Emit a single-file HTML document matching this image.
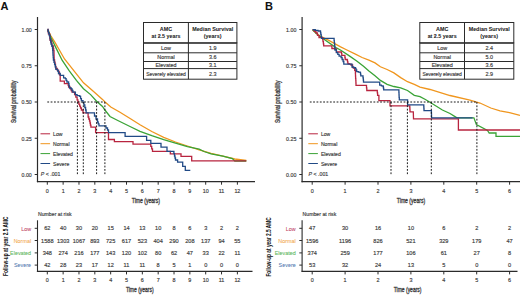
<!DOCTYPE html>
<html><head><meta charset="utf-8"><style>
html,body{margin:0;padding:0;background:#fff;}
body{width:520px;height:295px;overflow:hidden;}
svg{display:block;font-family:"Liberation Sans", sans-serif;}
</style></head><body>
<svg width="520" height="295" viewBox="0 0 520 295">
<rect width="520" height="295" fill="#fff"/>
<text x="0.39999999999999997" y="9.9" font-size="11" fill="#111" font-weight="bold" stroke="#111" stroke-width="0.05">A</text>
<line x1="37.5" y1="17" x2="37.5" y2="182.2" stroke="#2b2b2b" stroke-width="1.2"/>
<line x1="36.9" y1="181.6" x2="255" y2="181.6" stroke="#2b2b2b" stroke-width="1.3"/>
<line x1="34.7" y1="29.5" x2="37.5" y2="29.5" stroke="#2b2b2b" stroke-width="1"/>
<text x="31.8" y="31.8" font-size="5.4" fill="#3a3a3a" text-anchor="end" textLength="10.3" lengthAdjust="spacingAndGlyphs" stroke="#3a3a3a" stroke-width="0.15">1.00</text>
<line x1="34.7" y1="65.75" x2="37.5" y2="65.75" stroke="#2b2b2b" stroke-width="1"/>
<text x="31.8" y="68.05" font-size="5.4" fill="#3a3a3a" text-anchor="end" textLength="10.3" lengthAdjust="spacingAndGlyphs" stroke="#3a3a3a" stroke-width="0.15">0.75</text>
<line x1="34.7" y1="102.0" x2="37.5" y2="102.0" stroke="#2b2b2b" stroke-width="1"/>
<text x="31.8" y="104.3" font-size="5.4" fill="#3a3a3a" text-anchor="end" textLength="10.3" lengthAdjust="spacingAndGlyphs" stroke="#3a3a3a" stroke-width="0.15">0.50</text>
<line x1="34.7" y1="138.25" x2="37.5" y2="138.25" stroke="#2b2b2b" stroke-width="1"/>
<text x="31.8" y="140.55" font-size="5.4" fill="#3a3a3a" text-anchor="end" textLength="10.3" lengthAdjust="spacingAndGlyphs" stroke="#3a3a3a" stroke-width="0.15">0.25</text>
<line x1="34.7" y1="174.5" x2="37.5" y2="174.5" stroke="#2b2b2b" stroke-width="1"/>
<text x="31.8" y="176.8" font-size="5.4" fill="#3a3a3a" text-anchor="end" textLength="10.3" lengthAdjust="spacingAndGlyphs" stroke="#3a3a3a" stroke-width="0.15">0.00</text>
<line x1="47.3" y1="181.6" x2="47.3" y2="184.7" stroke="#2b2b2b" stroke-width="1"/>
<text x="47.3" y="193.0" font-size="5.4" fill="#3a3a3a" text-anchor="middle" stroke="#3a3a3a" stroke-width="0.15">0</text>
<line x1="63.14" y1="181.6" x2="63.14" y2="184.7" stroke="#2b2b2b" stroke-width="1"/>
<text x="63.14" y="193.0" font-size="5.4" fill="#3a3a3a" text-anchor="middle" stroke="#3a3a3a" stroke-width="0.15">1</text>
<line x1="78.97999999999999" y1="181.6" x2="78.97999999999999" y2="184.7" stroke="#2b2b2b" stroke-width="1"/>
<text x="78.97999999999999" y="193.0" font-size="5.4" fill="#3a3a3a" text-anchor="middle" stroke="#3a3a3a" stroke-width="0.15">2</text>
<line x1="94.82" y1="181.6" x2="94.82" y2="184.7" stroke="#2b2b2b" stroke-width="1"/>
<text x="94.82" y="193.0" font-size="5.4" fill="#3a3a3a" text-anchor="middle" stroke="#3a3a3a" stroke-width="0.15">3</text>
<line x1="110.66" y1="181.6" x2="110.66" y2="184.7" stroke="#2b2b2b" stroke-width="1"/>
<text x="110.66" y="193.0" font-size="5.4" fill="#3a3a3a" text-anchor="middle" stroke="#3a3a3a" stroke-width="0.15">4</text>
<line x1="126.5" y1="181.6" x2="126.5" y2="184.7" stroke="#2b2b2b" stroke-width="1"/>
<text x="126.5" y="193.0" font-size="5.4" fill="#3a3a3a" text-anchor="middle" stroke="#3a3a3a" stroke-width="0.15">5</text>
<line x1="142.33999999999997" y1="181.6" x2="142.33999999999997" y2="184.7" stroke="#2b2b2b" stroke-width="1"/>
<text x="142.33999999999997" y="193.0" font-size="5.4" fill="#3a3a3a" text-anchor="middle" stroke="#3a3a3a" stroke-width="0.15">6</text>
<line x1="158.18" y1="181.6" x2="158.18" y2="184.7" stroke="#2b2b2b" stroke-width="1"/>
<text x="158.18" y="193.0" font-size="5.4" fill="#3a3a3a" text-anchor="middle" stroke="#3a3a3a" stroke-width="0.15">7</text>
<line x1="174.01999999999998" y1="181.6" x2="174.01999999999998" y2="184.7" stroke="#2b2b2b" stroke-width="1"/>
<text x="174.01999999999998" y="193.0" font-size="5.4" fill="#3a3a3a" text-anchor="middle" stroke="#3a3a3a" stroke-width="0.15">8</text>
<line x1="189.86" y1="181.6" x2="189.86" y2="184.7" stroke="#2b2b2b" stroke-width="1"/>
<text x="189.86" y="193.0" font-size="5.4" fill="#3a3a3a" text-anchor="middle" stroke="#3a3a3a" stroke-width="0.15">9</text>
<line x1="205.7" y1="181.6" x2="205.7" y2="184.7" stroke="#2b2b2b" stroke-width="1"/>
<text x="205.7" y="193.0" font-size="5.4" fill="#3a3a3a" text-anchor="middle" stroke="#3a3a3a" stroke-width="0.15">10</text>
<line x1="221.54000000000002" y1="181.6" x2="221.54000000000002" y2="184.7" stroke="#2b2b2b" stroke-width="1"/>
<text x="221.54000000000002" y="193.0" font-size="5.4" fill="#3a3a3a" text-anchor="middle" stroke="#3a3a3a" stroke-width="0.15">11</text>
<line x1="237.38" y1="181.6" x2="237.38" y2="184.7" stroke="#2b2b2b" stroke-width="1"/>
<text x="237.38" y="193.0" font-size="5.4" fill="#3a3a3a" text-anchor="middle" stroke="#3a3a3a" stroke-width="0.15">12</text>
<text x="145.9" y="203.4" font-size="7" fill="#3a3a3a" text-anchor="middle" textLength="28.3" lengthAdjust="spacingAndGlyphs" stroke="#3a3a3a" stroke-width="0.32">Time (years)</text>
<text x="0" y="0" font-size="7" fill="#3a3a3a" stroke="#3a3a3a" stroke-width="0.32" text-anchor="middle" textLength="42.5" lengthAdjust="spacingAndGlyphs" transform="translate(15.6,101.8) rotate(-90)">Survival probability</text>
<rect x="143.5" y="22.5" width="93.4" height="56.7" fill="#fff" stroke="#2b2b2b" stroke-width="1"/>
<rect x="143.5" y="42.3" width="93.4" height="1.3000000000000043" fill="#555" stroke="#2b2b2b" stroke-width="0.6"/>
<line x1="143.5" y1="52.8" x2="236.9" y2="52.8" stroke="#2b2b2b" stroke-width="1"/>
<line x1="143.5" y1="61.5" x2="236.9" y2="61.5" stroke="#2b2b2b" stroke-width="1"/>
<line x1="143.5" y1="68.6" x2="236.9" y2="68.6" stroke="#2b2b2b" stroke-width="1"/>
<line x1="188.4" y1="22.5" x2="188.4" y2="79.2" stroke="#2b2b2b" stroke-width="1"/>
<text x="165.95" y="31.0" font-size="5.4" fill="#222" text-anchor="middle" font-weight="bold" stroke="#222" stroke-width="0.05">AMC</text>
<text x="165.95" y="37.6" font-size="5.4" fill="#222" text-anchor="middle" textLength="29.0" lengthAdjust="spacingAndGlyphs" font-weight="bold" stroke="#222" stroke-width="0.05">at 2.5 years</text>
<text x="212.65" y="31.0" font-size="5.4" fill="#222" text-anchor="middle" textLength="41.0" lengthAdjust="spacingAndGlyphs" font-weight="bold" stroke="#222" stroke-width="0.05">Median Survival</text>
<text x="212.65" y="37.6" font-size="5.4" fill="#222" text-anchor="middle" font-weight="bold" stroke="#222" stroke-width="0.05">(years)</text>
<text x="165.95" y="49.800000000000004" font-size="5.4" fill="#3a3a3a" text-anchor="middle" stroke="#3a3a3a" stroke-width="0.15">Low</text>
<text x="212.65" y="49.800000000000004" font-size="5.4" fill="#3a3a3a" text-anchor="middle" stroke="#3a3a3a" stroke-width="0.15">1.9</text>
<text x="165.95" y="58.75" font-size="5.4" fill="#3a3a3a" text-anchor="middle" stroke="#3a3a3a" stroke-width="0.15">Normal</text>
<text x="212.65" y="58.75" font-size="5.4" fill="#3a3a3a" text-anchor="middle" stroke="#3a3a3a" stroke-width="0.15">3.6</text>
<text x="165.95" y="66.64999999999999" font-size="5.4" fill="#3a3a3a" text-anchor="middle" stroke="#3a3a3a" stroke-width="0.15">Elevated</text>
<text x="212.65" y="66.64999999999999" font-size="5.4" fill="#3a3a3a" text-anchor="middle" stroke="#3a3a3a" stroke-width="0.15">3.1</text>
<text x="165.95" y="75.5" font-size="5.4" fill="#3a3a3a" text-anchor="middle" textLength="39.5" lengthAdjust="spacingAndGlyphs" stroke="#3a3a3a" stroke-width="0.15">Severely elevated</text>
<text x="212.65" y="75.5" font-size="5.4" fill="#3a3a3a" text-anchor="middle" stroke="#3a3a3a" stroke-width="0.15">2.3</text>
<polyline points="47.5,29.5 51.0,36.0 55.0,42.4 58.5,48.5 64.5,59.0 74.0,70.9 83.5,82.8 93.0,91.1 102.5,99.4 104.8,101.7 110.8,107.0 120.0,112.3 130.5,118.7 140.0,124.8 151.8,131.5 163.7,137.3 175.5,142.0 187.4,146.0 199.2,149.8 211.1,153.4 222.9,156.2 234.8,159.0 246.3,160.5" fill="none" stroke="#f0961e" stroke-width="1.3" stroke-linejoin="miter"/>
<polyline points="47.5,29.5 51.0,37.5 55.0,45.9 62.1,60.2 69.3,70.9 76.4,80.4 83.5,88.7 90.6,94.6 96.6,101.3 102.5,106.5 104.9,110.0 110.0,116.5 117.8,120.5 130.0,126.5 140.0,131.3 151.8,135.6 163.7,139.6 175.5,143.2 187.4,146.7 199.2,149.1 204.0,151.5 211.1,153.8 222.9,156.2 232.4,158.6 234.8,161.0 246.3,161.0" fill="none" stroke="#3aa336" stroke-width="1.3" stroke-linejoin="miter"/>
<polyline points="47.5,29.5 48.0,29.5 48.0,31.8 48.5,31.8 48.5,34.0 49.5,34.0 49.7,34.0 49.7,36.0 49.8,36.0 49.8,38.0 50.0,38.0 50.0,40.0 51.0,40.0 51.3,40.0 51.3,42.0 51.7,42.0 51.7,44.0 52.0,44.0 52.0,46.0 53.0,46.0 53.3,46.0 53.3,48.3 53.7,48.3 53.7,50.7 54.0,50.7 54.0,53.0 54.2,60.0 54.6,60.0 54.6,62.1 55.0,62.1 55.0,64.2 55.5,64.2 55.5,66.4 55.9,66.4 55.9,68.5 57.2,68.5 57.2,70.2 58.5,70.2 58.5,71.9 59.4,71.9 59.4,74.5 60.2,74.5 60.2,77.0 60.2,81.2 63.6,81.2 64.4,81.2 64.4,83.7 67.8,83.7 68.2,83.7 68.2,85.4 68.6,85.4 68.6,87.1 70.3,87.1 70.3,88.8 71.2,88.8 71.2,90.5 72.0,90.5 72.0,92.2 74.6,92.2 74.6,94.7 75.8,94.7 75.8,97.2 77.1,97.2 77.1,99.8 77.9,99.8 77.9,101.9 78.8,101.9 78.8,104.1 79.7,104.1 79.7,106.1 80.5,106.1 80.5,108.0 81.4,108.0 81.4,110.0 83.0,110.0 83.0,112.9 88.1,112.9 88.1,117.0 88.8,117.0 88.8,119.0 89.5,119.0 89.5,121.0 90.0,121.0 90.0,123.0 90.4,123.0 90.4,125.1 90.9,125.1 90.9,127.1 95.6,127.1 95.6,132.6 108.5,132.6 108.5,139.5 114.4,139.5 114.4,141.7 133.0,141.7 133.0,144.2 149.2,144.2 150.8,144.2 150.8,146.3 151.7,146.3 151.7,148.9 152.5,148.9 152.5,151.4 170.3,151.4 170.3,153.9 181.0,153.9 181.0,156.3 191.7,156.3 191.7,160.8 246.3,160.8" fill="none" stroke="#b8243f" stroke-width="1.3" stroke-linejoin="miter"/>
<polyline points="47.5,29.5 48.0,29.5 48.0,31.2 48.5,31.2 48.5,33.0 49.2,33.0 49.2,35.5 50.0,35.5 50.0,38.0 50.3,38.0 50.3,40.0 50.7,40.0 50.7,42.0 51.0,42.0 51.0,44.0 51.8,44.0 51.8,46.0 52.5,46.0 52.5,48.0 52.7,48.0 52.7,50.4 52.9,50.4 52.9,52.8 53.0,52.8 53.0,55.2 53.2,55.2 53.2,57.6 53.4,57.6 53.4,60.0 54.0,60.0 54.0,62.3 54.6,62.3 54.6,64.7 55.3,64.7 55.3,67.0 55.9,67.0 55.9,69.3 57.6,69.3 57.6,71.0 58.5,71.0 58.5,73.5 60.2,73.5 60.2,75.3 61.9,75.3 63.6,75.3 63.6,77.8 65.3,77.8 65.3,78.6 66.1,78.6 66.1,80.3 66.9,80.3 66.9,82.0 68.6,82.0 68.6,83.7 69.0,83.7 69.0,85.8 69.5,85.8 69.5,88.0 71.2,88.0 71.2,88.8 72.1,88.8 72.1,90.5 72.9,90.5 72.9,92.2 75.4,92.2 75.4,94.7 77.1,94.7 77.1,95.6 79.7,95.6 79.7,96.4 80.6,96.4 80.6,98.6 81.4,98.6 81.4,100.7 83.0,100.7 83.0,102.4 83.9,102.4 83.9,104.9 84.8,104.9 84.8,107.5 85.6,107.5 85.6,110.0 86.1,110.0 86.1,112.9 93.6,112.9 94.5,112.9 94.5,116.0 96.0,116.0 96.0,119.0 97.5,119.0 97.5,122.0 98.2,122.0 98.2,123.9 99.0,123.9 99.0,125.8 105.1,125.8 106.0,125.8 106.0,128.0 107.5,128.0 107.5,130.0 108.5,130.0 108.5,132.7 125.1,132.7 125.1,136.4 146.6,136.4 146.6,140.3 150.8,140.3 150.8,143.4 161.0,143.4 161.0,147.1 167.0,147.1 167.0,151.4 173.4,151.4 173.9,151.4 173.9,153.7 174.5,153.7 174.5,156.0 175.0,156.0 175.0,158.0 175.5,158.0 175.5,160.0 177.6,160.0 177.6,162.2 182.7,162.2 182.7,166.4 185.3,166.4 185.3,170.3 190.3,170.3" fill="none" stroke="#214a86" stroke-width="1.3" stroke-linejoin="miter"/>
<line x1="47.3" y1="102.0" x2="104.9" y2="102.0" stroke="#1a1a1a" stroke-width="1.0" stroke-dasharray="1.8 1.55"/>
<line x1="77.4" y1="102.0" x2="77.4" y2="175.0" stroke="#1a1a1a" stroke-width="1.0" stroke-dasharray="1.8 1.55"/>
<line x1="104.9" y1="102.0" x2="104.9" y2="175.0" stroke="#1a1a1a" stroke-width="1.0" stroke-dasharray="1.8 1.55"/>
<line x1="96.6" y1="102.0" x2="96.6" y2="175.0" stroke="#1a1a1a" stroke-width="1.0" stroke-dasharray="1.8 1.55"/>
<line x1="83.3" y1="102.0" x2="83.3" y2="175.0" stroke="#1a1a1a" stroke-width="1.0" stroke-dasharray="1.8 1.55"/>
<line x1="40.5" y1="133.8" x2="50.1" y2="133.8" stroke="#b8243f" stroke-width="1.0"/>
<text x="53.1" y="136.20000000000002" font-size="5.1" fill="#3a3a3a" stroke="#3a3a3a" stroke-width="0.15">Low</text>
<line x1="40.5" y1="143.70000000000002" x2="50.1" y2="143.70000000000002" stroke="#f0961e" stroke-width="1.0"/>
<text x="53.1" y="146.10000000000002" font-size="5.1" fill="#3a3a3a" stroke="#3a3a3a" stroke-width="0.15">Normal</text>
<line x1="40.5" y1="153.60000000000002" x2="50.1" y2="153.60000000000002" stroke="#3aa336" stroke-width="1.0"/>
<text x="53.1" y="156.00000000000003" font-size="5.1" fill="#3a3a3a" stroke="#3a3a3a" stroke-width="0.15">Elevated</text>
<line x1="40.5" y1="163.5" x2="50.1" y2="163.5" stroke="#214a86" stroke-width="1.0"/>
<text x="53.1" y="165.9" font-size="5.1" fill="#3a3a3a" stroke="#3a3a3a" stroke-width="0.15">Severe</text>
<text x="40.8" y="175.70000000000002" font-size="5.4" fill="#3a3a3a" stroke="#3a3a3a" stroke-width="0.15" textLength="19.6" lengthAdjust="spacingAndGlyphs"><tspan font-style="italic">P</tspan> &lt; .001</text>
<line x1="37.5" y1="220.3" x2="37.5" y2="271.8" stroke="#2b2b2b" stroke-width="1.1"/>
<line x1="36.9" y1="271.3" x2="252.5" y2="271.3" stroke="#2b2b2b" stroke-width="1.3"/>
<text x="37.9" y="216.3" font-size="5.3" fill="#3a3a3a" textLength="33.8" lengthAdjust="spacingAndGlyphs" stroke="#3a3a3a" stroke-width="0.15">Number at risk</text>
<line x1="34.7" y1="228.3" x2="37.5" y2="228.3" stroke="#2b2b2b" stroke-width="1"/>
<text x="31.1" y="230.5" font-size="5.4" fill="#c0405e" text-anchor="end" stroke="#c0405e" stroke-width="0.05">Low</text>
<text x="47.3" y="230.3" font-size="5.6" fill="#3a3a3a" text-anchor="middle" stroke="#3a3a3a" stroke-width="0.15">62</text>
<text x="63.14" y="230.3" font-size="5.6" fill="#3a3a3a" text-anchor="middle" stroke="#3a3a3a" stroke-width="0.15">40</text>
<text x="78.97999999999999" y="230.3" font-size="5.6" fill="#3a3a3a" text-anchor="middle" stroke="#3a3a3a" stroke-width="0.15">30</text>
<text x="94.82" y="230.3" font-size="5.6" fill="#3a3a3a" text-anchor="middle" stroke="#3a3a3a" stroke-width="0.15">20</text>
<text x="110.66" y="230.3" font-size="5.6" fill="#3a3a3a" text-anchor="middle" stroke="#3a3a3a" stroke-width="0.15">15</text>
<text x="126.5" y="230.3" font-size="5.6" fill="#3a3a3a" text-anchor="middle" stroke="#3a3a3a" stroke-width="0.15">14</text>
<text x="142.33999999999997" y="230.3" font-size="5.6" fill="#3a3a3a" text-anchor="middle" stroke="#3a3a3a" stroke-width="0.15">13</text>
<text x="158.18" y="230.3" font-size="5.6" fill="#3a3a3a" text-anchor="middle" stroke="#3a3a3a" stroke-width="0.15">10</text>
<text x="174.01999999999998" y="230.3" font-size="5.6" fill="#3a3a3a" text-anchor="middle" stroke="#3a3a3a" stroke-width="0.15">8</text>
<text x="189.86" y="230.3" font-size="5.6" fill="#3a3a3a" text-anchor="middle" stroke="#3a3a3a" stroke-width="0.15">6</text>
<text x="205.7" y="230.3" font-size="5.6" fill="#3a3a3a" text-anchor="middle" stroke="#3a3a3a" stroke-width="0.15">3</text>
<text x="221.54000000000002" y="230.3" font-size="5.6" fill="#3a3a3a" text-anchor="middle" stroke="#3a3a3a" stroke-width="0.15">2</text>
<text x="237.38" y="230.3" font-size="5.6" fill="#3a3a3a" text-anchor="middle" stroke="#3a3a3a" stroke-width="0.15">2</text>
<line x1="34.7" y1="240.5" x2="37.5" y2="240.5" stroke="#2b2b2b" stroke-width="1"/>
<text x="31.1" y="242.7" font-size="5.4" fill="#f2a64a" text-anchor="end" stroke="#f2a64a" stroke-width="0.05">Normal</text>
<text x="47.3" y="242.5" font-size="5.6" fill="#3a3a3a" text-anchor="middle" stroke="#3a3a3a" stroke-width="0.15">1588</text>
<text x="63.14" y="242.5" font-size="5.6" fill="#3a3a3a" text-anchor="middle" stroke="#3a3a3a" stroke-width="0.15">1303</text>
<text x="78.97999999999999" y="242.5" font-size="5.6" fill="#3a3a3a" text-anchor="middle" stroke="#3a3a3a" stroke-width="0.15">1067</text>
<text x="94.82" y="242.5" font-size="5.6" fill="#3a3a3a" text-anchor="middle" stroke="#3a3a3a" stroke-width="0.15">893</text>
<text x="110.66" y="242.5" font-size="5.6" fill="#3a3a3a" text-anchor="middle" stroke="#3a3a3a" stroke-width="0.15">725</text>
<text x="126.5" y="242.5" font-size="5.6" fill="#3a3a3a" text-anchor="middle" stroke="#3a3a3a" stroke-width="0.15">617</text>
<text x="142.33999999999997" y="242.5" font-size="5.6" fill="#3a3a3a" text-anchor="middle" stroke="#3a3a3a" stroke-width="0.15">523</text>
<text x="158.18" y="242.5" font-size="5.6" fill="#3a3a3a" text-anchor="middle" stroke="#3a3a3a" stroke-width="0.15">404</text>
<text x="174.01999999999998" y="242.5" font-size="5.6" fill="#3a3a3a" text-anchor="middle" stroke="#3a3a3a" stroke-width="0.15">290</text>
<text x="189.86" y="242.5" font-size="5.6" fill="#3a3a3a" text-anchor="middle" stroke="#3a3a3a" stroke-width="0.15">208</text>
<text x="205.7" y="242.5" font-size="5.6" fill="#3a3a3a" text-anchor="middle" stroke="#3a3a3a" stroke-width="0.15">137</text>
<text x="221.54000000000002" y="242.5" font-size="5.6" fill="#3a3a3a" text-anchor="middle" stroke="#3a3a3a" stroke-width="0.15">94</text>
<text x="237.38" y="242.5" font-size="5.6" fill="#3a3a3a" text-anchor="middle" stroke="#3a3a3a" stroke-width="0.15">55</text>
<line x1="34.7" y1="252.9" x2="37.5" y2="252.9" stroke="#2b2b2b" stroke-width="1"/>
<text x="31.1" y="255.1" font-size="5.4" fill="#55b455" text-anchor="end" stroke="#55b455" stroke-width="0.05">Elevated</text>
<text x="47.3" y="254.9" font-size="5.6" fill="#3a3a3a" text-anchor="middle" stroke="#3a3a3a" stroke-width="0.15">348</text>
<text x="63.14" y="254.9" font-size="5.6" fill="#3a3a3a" text-anchor="middle" stroke="#3a3a3a" stroke-width="0.15">274</text>
<text x="78.97999999999999" y="254.9" font-size="5.6" fill="#3a3a3a" text-anchor="middle" stroke="#3a3a3a" stroke-width="0.15">216</text>
<text x="94.82" y="254.9" font-size="5.6" fill="#3a3a3a" text-anchor="middle" stroke="#3a3a3a" stroke-width="0.15">177</text>
<text x="110.66" y="254.9" font-size="5.6" fill="#3a3a3a" text-anchor="middle" stroke="#3a3a3a" stroke-width="0.15">143</text>
<text x="126.5" y="254.9" font-size="5.6" fill="#3a3a3a" text-anchor="middle" stroke="#3a3a3a" stroke-width="0.15">120</text>
<text x="142.33999999999997" y="254.9" font-size="5.6" fill="#3a3a3a" text-anchor="middle" stroke="#3a3a3a" stroke-width="0.15">102</text>
<text x="158.18" y="254.9" font-size="5.6" fill="#3a3a3a" text-anchor="middle" stroke="#3a3a3a" stroke-width="0.15">80</text>
<text x="174.01999999999998" y="254.9" font-size="5.6" fill="#3a3a3a" text-anchor="middle" stroke="#3a3a3a" stroke-width="0.15">62</text>
<text x="189.86" y="254.9" font-size="5.6" fill="#3a3a3a" text-anchor="middle" stroke="#3a3a3a" stroke-width="0.15">47</text>
<text x="205.7" y="254.9" font-size="5.6" fill="#3a3a3a" text-anchor="middle" stroke="#3a3a3a" stroke-width="0.15">33</text>
<text x="221.54000000000002" y="254.9" font-size="5.6" fill="#3a3a3a" text-anchor="middle" stroke="#3a3a3a" stroke-width="0.15">22</text>
<text x="237.38" y="254.9" font-size="5.6" fill="#3a3a3a" text-anchor="middle" stroke="#3a3a3a" stroke-width="0.15">11</text>
<line x1="34.7" y1="265.1" x2="37.5" y2="265.1" stroke="#2b2b2b" stroke-width="1"/>
<text x="31.1" y="267.3" font-size="5.4" fill="#4f78b0" text-anchor="end" stroke="#4f78b0" stroke-width="0.05">Severe</text>
<text x="47.3" y="267.1" font-size="5.6" fill="#3a3a3a" text-anchor="middle" stroke="#3a3a3a" stroke-width="0.15">42</text>
<text x="63.14" y="267.1" font-size="5.6" fill="#3a3a3a" text-anchor="middle" stroke="#3a3a3a" stroke-width="0.15">28</text>
<text x="78.97999999999999" y="267.1" font-size="5.6" fill="#3a3a3a" text-anchor="middle" stroke="#3a3a3a" stroke-width="0.15">23</text>
<text x="94.82" y="267.1" font-size="5.6" fill="#3a3a3a" text-anchor="middle" stroke="#3a3a3a" stroke-width="0.15">17</text>
<text x="110.66" y="267.1" font-size="5.6" fill="#3a3a3a" text-anchor="middle" stroke="#3a3a3a" stroke-width="0.15">12</text>
<text x="126.5" y="267.1" font-size="5.6" fill="#3a3a3a" text-anchor="middle" stroke="#3a3a3a" stroke-width="0.15">11</text>
<text x="142.33999999999997" y="267.1" font-size="5.6" fill="#3a3a3a" text-anchor="middle" stroke="#3a3a3a" stroke-width="0.15">11</text>
<text x="158.18" y="267.1" font-size="5.6" fill="#3a3a3a" text-anchor="middle" stroke="#3a3a3a" stroke-width="0.15">8</text>
<text x="174.01999999999998" y="267.1" font-size="5.6" fill="#3a3a3a" text-anchor="middle" stroke="#3a3a3a" stroke-width="0.15">5</text>
<text x="189.86" y="267.1" font-size="5.6" fill="#3a3a3a" text-anchor="middle" stroke="#3a3a3a" stroke-width="0.15">1</text>
<text x="205.7" y="267.1" font-size="5.6" fill="#3a3a3a" text-anchor="middle" stroke="#3a3a3a" stroke-width="0.15">0</text>
<text x="221.54000000000002" y="267.1" font-size="5.6" fill="#3a3a3a" text-anchor="middle" stroke="#3a3a3a" stroke-width="0.15">0</text>
<text x="237.38" y="267.1" font-size="5.6" fill="#3a3a3a" text-anchor="middle" stroke="#3a3a3a" stroke-width="0.15">0</text>
<line x1="47.3" y1="271.3" x2="47.3" y2="274.40000000000003" stroke="#2b2b2b" stroke-width="1"/>
<text x="47.3" y="282.3" font-size="5.4" fill="#3a3a3a" text-anchor="middle" stroke="#3a3a3a" stroke-width="0.15">0</text>
<line x1="63.14" y1="271.3" x2="63.14" y2="274.40000000000003" stroke="#2b2b2b" stroke-width="1"/>
<text x="63.14" y="282.3" font-size="5.4" fill="#3a3a3a" text-anchor="middle" stroke="#3a3a3a" stroke-width="0.15">1</text>
<line x1="78.97999999999999" y1="271.3" x2="78.97999999999999" y2="274.40000000000003" stroke="#2b2b2b" stroke-width="1"/>
<text x="78.97999999999999" y="282.3" font-size="5.4" fill="#3a3a3a" text-anchor="middle" stroke="#3a3a3a" stroke-width="0.15">2</text>
<line x1="94.82" y1="271.3" x2="94.82" y2="274.40000000000003" stroke="#2b2b2b" stroke-width="1"/>
<text x="94.82" y="282.3" font-size="5.4" fill="#3a3a3a" text-anchor="middle" stroke="#3a3a3a" stroke-width="0.15">3</text>
<line x1="110.66" y1="271.3" x2="110.66" y2="274.40000000000003" stroke="#2b2b2b" stroke-width="1"/>
<text x="110.66" y="282.3" font-size="5.4" fill="#3a3a3a" text-anchor="middle" stroke="#3a3a3a" stroke-width="0.15">4</text>
<line x1="126.5" y1="271.3" x2="126.5" y2="274.40000000000003" stroke="#2b2b2b" stroke-width="1"/>
<text x="126.5" y="282.3" font-size="5.4" fill="#3a3a3a" text-anchor="middle" stroke="#3a3a3a" stroke-width="0.15">5</text>
<line x1="142.33999999999997" y1="271.3" x2="142.33999999999997" y2="274.40000000000003" stroke="#2b2b2b" stroke-width="1"/>
<text x="142.33999999999997" y="282.3" font-size="5.4" fill="#3a3a3a" text-anchor="middle" stroke="#3a3a3a" stroke-width="0.15">6</text>
<line x1="158.18" y1="271.3" x2="158.18" y2="274.40000000000003" stroke="#2b2b2b" stroke-width="1"/>
<text x="158.18" y="282.3" font-size="5.4" fill="#3a3a3a" text-anchor="middle" stroke="#3a3a3a" stroke-width="0.15">7</text>
<line x1="174.01999999999998" y1="271.3" x2="174.01999999999998" y2="274.40000000000003" stroke="#2b2b2b" stroke-width="1"/>
<text x="174.01999999999998" y="282.3" font-size="5.4" fill="#3a3a3a" text-anchor="middle" stroke="#3a3a3a" stroke-width="0.15">8</text>
<line x1="189.86" y1="271.3" x2="189.86" y2="274.40000000000003" stroke="#2b2b2b" stroke-width="1"/>
<text x="189.86" y="282.3" font-size="5.4" fill="#3a3a3a" text-anchor="middle" stroke="#3a3a3a" stroke-width="0.15">9</text>
<line x1="205.7" y1="271.3" x2="205.7" y2="274.40000000000003" stroke="#2b2b2b" stroke-width="1"/>
<text x="205.7" y="282.3" font-size="5.4" fill="#3a3a3a" text-anchor="middle" stroke="#3a3a3a" stroke-width="0.15">10</text>
<line x1="221.54000000000002" y1="271.3" x2="221.54000000000002" y2="274.40000000000003" stroke="#2b2b2b" stroke-width="1"/>
<text x="221.54000000000002" y="282.3" font-size="5.4" fill="#3a3a3a" text-anchor="middle" stroke="#3a3a3a" stroke-width="0.15">11</text>
<line x1="237.38" y1="271.3" x2="237.38" y2="274.40000000000003" stroke="#2b2b2b" stroke-width="1"/>
<text x="237.38" y="282.3" font-size="5.4" fill="#3a3a3a" text-anchor="middle" stroke="#3a3a3a" stroke-width="0.15">12</text>
<text x="139.8" y="292.2" font-size="7" fill="#3a3a3a" text-anchor="middle" textLength="27.8" lengthAdjust="spacingAndGlyphs" stroke="#3a3a3a" stroke-width="0.32">Time (years)</text>
<text x="0" y="0" font-size="7.2" fill="#111" font-weight="bold" text-anchor="middle" textLength="59.3" lengthAdjust="spacingAndGlyphs" transform="translate(7.7,246.3) rotate(-90)">Follow-up at year 2.5 AMC</text>
<text x="265.1" y="9.9" font-size="11" fill="#111" font-weight="bold" stroke="#111" stroke-width="0.05">B</text>
<line x1="302.1" y1="17" x2="302.1" y2="182.2" stroke="#2b2b2b" stroke-width="1.2"/>
<line x1="301.5" y1="181.6" x2="520" y2="181.6" stroke="#2b2b2b" stroke-width="1.3"/>
<line x1="299.3" y1="29.5" x2="302.1" y2="29.5" stroke="#2b2b2b" stroke-width="1"/>
<text x="296.40000000000003" y="31.8" font-size="5.4" fill="#3a3a3a" text-anchor="end" textLength="10.3" lengthAdjust="spacingAndGlyphs" stroke="#3a3a3a" stroke-width="0.15">1.00</text>
<line x1="299.3" y1="65.75" x2="302.1" y2="65.75" stroke="#2b2b2b" stroke-width="1"/>
<text x="296.40000000000003" y="68.05" font-size="5.4" fill="#3a3a3a" text-anchor="end" textLength="10.3" lengthAdjust="spacingAndGlyphs" stroke="#3a3a3a" stroke-width="0.15">0.75</text>
<line x1="299.3" y1="102.0" x2="302.1" y2="102.0" stroke="#2b2b2b" stroke-width="1"/>
<text x="296.40000000000003" y="104.3" font-size="5.4" fill="#3a3a3a" text-anchor="end" textLength="10.3" lengthAdjust="spacingAndGlyphs" stroke="#3a3a3a" stroke-width="0.15">0.50</text>
<line x1="299.3" y1="138.25" x2="302.1" y2="138.25" stroke="#2b2b2b" stroke-width="1"/>
<text x="296.40000000000003" y="140.55" font-size="5.4" fill="#3a3a3a" text-anchor="end" textLength="10.3" lengthAdjust="spacingAndGlyphs" stroke="#3a3a3a" stroke-width="0.15">0.25</text>
<line x1="299.3" y1="174.5" x2="302.1" y2="174.5" stroke="#2b2b2b" stroke-width="1"/>
<text x="296.40000000000003" y="176.8" font-size="5.4" fill="#3a3a3a" text-anchor="end" textLength="10.3" lengthAdjust="spacingAndGlyphs" stroke="#3a3a3a" stroke-width="0.15">0.00</text>
<line x1="312.2" y1="181.6" x2="312.2" y2="184.7" stroke="#2b2b2b" stroke-width="1"/>
<text x="312.2" y="193.0" font-size="5.4" fill="#3a3a3a" text-anchor="middle" stroke="#3a3a3a" stroke-width="0.15">0</text>
<line x1="345.09999999999997" y1="181.6" x2="345.09999999999997" y2="184.7" stroke="#2b2b2b" stroke-width="1"/>
<text x="345.09999999999997" y="193.0" font-size="5.4" fill="#3a3a3a" text-anchor="middle" stroke="#3a3a3a" stroke-width="0.15">1</text>
<line x1="378.0" y1="181.6" x2="378.0" y2="184.7" stroke="#2b2b2b" stroke-width="1"/>
<text x="378.0" y="193.0" font-size="5.4" fill="#3a3a3a" text-anchor="middle" stroke="#3a3a3a" stroke-width="0.15">2</text>
<line x1="410.9" y1="181.6" x2="410.9" y2="184.7" stroke="#2b2b2b" stroke-width="1"/>
<text x="410.9" y="193.0" font-size="5.4" fill="#3a3a3a" text-anchor="middle" stroke="#3a3a3a" stroke-width="0.15">3</text>
<line x1="443.79999999999995" y1="181.6" x2="443.79999999999995" y2="184.7" stroke="#2b2b2b" stroke-width="1"/>
<text x="443.79999999999995" y="193.0" font-size="5.4" fill="#3a3a3a" text-anchor="middle" stroke="#3a3a3a" stroke-width="0.15">4</text>
<line x1="476.7" y1="181.6" x2="476.7" y2="184.7" stroke="#2b2b2b" stroke-width="1"/>
<text x="476.7" y="193.0" font-size="5.4" fill="#3a3a3a" text-anchor="middle" stroke="#3a3a3a" stroke-width="0.15">5</text>
<line x1="509.59999999999997" y1="181.6" x2="509.59999999999997" y2="184.7" stroke="#2b2b2b" stroke-width="1"/>
<text x="509.59999999999997" y="193.0" font-size="5.4" fill="#3a3a3a" text-anchor="middle" stroke="#3a3a3a" stroke-width="0.15">6</text>
<text x="411" y="203.4" font-size="7" fill="#3a3a3a" text-anchor="middle" textLength="28.3" lengthAdjust="spacingAndGlyphs" stroke="#3a3a3a" stroke-width="0.32">Time (years)</text>
<text x="0" y="0" font-size="7" fill="#3a3a3a" stroke="#3a3a3a" stroke-width="0.32" text-anchor="middle" textLength="42.5" lengthAdjust="spacingAndGlyphs" transform="translate(280.2,101.8) rotate(-90)">Survival probability</text>
<rect x="419.8" y="22.5" width="93.99999999999994" height="56.7" fill="#fff" stroke="#2b2b2b" stroke-width="1"/>
<rect x="419.8" y="42.3" width="93.99999999999994" height="1.3000000000000043" fill="#555" stroke="#2b2b2b" stroke-width="0.6"/>
<line x1="419.8" y1="52.8" x2="513.8" y2="52.8" stroke="#2b2b2b" stroke-width="1"/>
<line x1="419.8" y1="61.5" x2="513.8" y2="61.5" stroke="#2b2b2b" stroke-width="1"/>
<line x1="419.8" y1="68.6" x2="513.8" y2="68.6" stroke="#2b2b2b" stroke-width="1"/>
<line x1="464.5" y1="22.5" x2="464.5" y2="79.2" stroke="#2b2b2b" stroke-width="1"/>
<text x="442.15" y="31.0" font-size="5.4" fill="#222" text-anchor="middle" font-weight="bold" stroke="#222" stroke-width="0.05">AMC</text>
<text x="442.15" y="37.6" font-size="5.4" fill="#222" text-anchor="middle" textLength="29.0" lengthAdjust="spacingAndGlyphs" font-weight="bold" stroke="#222" stroke-width="0.05">at 2.5 years</text>
<text x="489.15" y="31.0" font-size="5.4" fill="#222" text-anchor="middle" textLength="41.0" lengthAdjust="spacingAndGlyphs" font-weight="bold" stroke="#222" stroke-width="0.05">Median Survival</text>
<text x="489.15" y="37.6" font-size="5.4" fill="#222" text-anchor="middle" font-weight="bold" stroke="#222" stroke-width="0.05">(years)</text>
<text x="442.15" y="49.800000000000004" font-size="5.4" fill="#3a3a3a" text-anchor="middle" stroke="#3a3a3a" stroke-width="0.15">Low</text>
<text x="489.15" y="49.800000000000004" font-size="5.4" fill="#3a3a3a" text-anchor="middle" stroke="#3a3a3a" stroke-width="0.15">2.4</text>
<text x="442.15" y="58.75" font-size="5.4" fill="#3a3a3a" text-anchor="middle" stroke="#3a3a3a" stroke-width="0.15">Normal</text>
<text x="489.15" y="58.75" font-size="5.4" fill="#3a3a3a" text-anchor="middle" stroke="#3a3a3a" stroke-width="0.15">5.0</text>
<text x="442.15" y="66.64999999999999" font-size="5.4" fill="#3a3a3a" text-anchor="middle" stroke="#3a3a3a" stroke-width="0.15">Elevated</text>
<text x="489.15" y="66.64999999999999" font-size="5.4" fill="#3a3a3a" text-anchor="middle" stroke="#3a3a3a" stroke-width="0.15">3.6</text>
<text x="442.15" y="75.5" font-size="5.4" fill="#3a3a3a" text-anchor="middle" textLength="39.5" lengthAdjust="spacingAndGlyphs" stroke="#3a3a3a" stroke-width="0.15">Severely elevated</text>
<text x="489.15" y="75.5" font-size="5.4" fill="#3a3a3a" text-anchor="middle" stroke="#3a3a3a" stroke-width="0.15">2.9</text>
<polyline points="312.6,29.7 316.0,33.0 319.3,35.7 328.8,40.4 340.6,46.8 345.9,49.5 355.4,54.1 362.1,57.5 368.9,60.2 375.0,62.9 380.4,66.8 387.1,69.5 393.9,72.9 400.7,77.6 407.5,81.7 414.3,84.4 420.0,87.1 430.0,89.5 450.0,95.5 470.0,100.2 480.0,103.0 490.8,108.0 500.0,110.8 509.5,112.7 520.0,115.3" fill="none" stroke="#f0961e" stroke-width="1.3" stroke-linejoin="miter"/>
<polyline points="312.6,29.7 318.0,35.0 324.0,39.3 335.9,47.6 340.4,50.0 348.6,55.4 356.7,60.9 363.5,66.3 368.9,71.0 375.0,75.8 380.4,80.4 387.1,84.4 393.9,86.5 400.7,87.8 407.5,90.5 414.3,95.3 420.0,96.6 425.4,99.5 430.0,102.3 442.4,110.0 450.0,113.5 455.0,116.6 457.0,117.8 473.9,117.8 476.4,124.6 487.5,130.5 489.2,133.0 496.0,133.0 496.0,136.4 520.0,136.4" fill="none" stroke="#3aa336" stroke-width="1.3" stroke-linejoin="miter"/>
<polyline points="312.6,29.7 314.3,29.7 314.3,31.4 316.0,31.4 316.0,33.0 317.5,33.0 317.5,35.3 319.0,35.3 319.0,37.6 322.4,37.6 322.7,37.6 322.7,39.6 323.0,39.6 323.0,41.7 323.4,41.7 323.4,43.8 323.7,43.8 323.7,45.8 329.2,45.8 331.9,45.8 331.9,48.5 334.6,48.5 334.6,49.0 336.4,49.0 336.4,52.0 341.1,52.0 341.5,52.0 341.5,53.7 341.8,53.7 341.8,55.4 344.5,55.4 344.9,55.4 344.9,57.5 345.2,57.5 345.2,59.5 347.2,59.5 347.2,60.2 347.5,60.2 347.5,61.9 347.9,61.9 347.9,63.6 349.2,63.6 349.2,64.2 351.0,64.2 351.0,65.0 352.6,65.0 352.6,67.6 354.0,67.6 354.0,68.3 354.7,68.3 354.7,70.4 355.4,70.4 355.4,73.7 355.5,73.7 355.5,76.0 355.6,76.0 355.6,78.3 355.8,78.3 355.8,80.7 355.9,80.7 355.9,83.0 356.0,83.0 356.0,85.3 366.2,85.3 366.5,85.3 366.5,87.9 366.8,87.9 366.8,90.5 377.0,90.5 377.3,90.5 377.3,92.9 377.6,92.9 377.6,95.3 378.9,95.3 378.9,96.4 378.9,100.7 390.0,100.7 390.0,105.9 409.7,105.9 409.8,105.9 409.8,107.9 409.9,107.9 409.9,109.8 410.0,109.8 410.0,111.8 413.3,111.8 413.5,118.9 458.4,118.9 458.4,130.0 520.0,130.0" fill="none" stroke="#b8243f" stroke-width="1.3" stroke-linejoin="miter"/>
<polyline points="312.6,29.7 315.3,29.7 315.3,30.4 318.0,30.4 318.0,31.0 320.5,31.0 320.5,32.5 320.8,32.5 320.8,34.4 321.2,34.4 321.2,36.4 321.5,36.4 321.5,38.3 333.8,38.3 334.1,38.3 334.1,40.6 334.3,40.6 334.3,42.8 334.6,42.8 334.6,45.1 334.8,45.1 334.8,47.5 335.0,47.5 335.0,50.0 336.4,50.0 336.4,52.7 337.8,52.7 337.8,54.4 339.1,54.4 339.1,56.1 341.1,56.1 341.1,57.5 342.1,57.5 342.1,59.5 343.1,59.5 343.1,61.5 343.8,61.5 343.8,64.2 351.3,64.2 352.0,64.2 352.0,67.0 353.7,67.0 353.7,67.7 355.4,67.7 355.4,68.3 356.0,68.3 356.0,70.0 356.7,70.0 356.7,71.7 358.4,71.7 358.4,72.1 360.1,72.1 360.1,72.4 360.5,72.4 360.5,74.1 360.8,74.1 360.8,75.8 362.8,75.8 363.0,75.8 363.0,77.9 363.3,77.9 363.3,80.1 363.5,80.1 363.5,82.2 379.0,82.2 379.7,82.2 379.7,85.1 381.4,85.1 381.4,85.8 383.1,85.8 383.1,86.5 383.4,86.5 383.4,88.2 383.7,88.2 383.7,89.9 398.7,89.9 398.9,89.9 398.9,92.4 399.0,92.4 399.0,94.8 399.1,94.8 399.1,97.3 399.3,97.3 399.3,99.8 407.6,99.8 407.6,104.8 423.7,104.8 423.8,104.8 423.8,106.8 423.9,106.8 423.9,108.7 424.0,108.7 424.0,110.7 431.4,110.7 431.6,117.8 472.6,117.8" fill="none" stroke="#214a86" stroke-width="1.3" stroke-linejoin="miter"/>
<line x1="309.8" y1="102.0" x2="476.9" y2="102.0" stroke="#1a1a1a" stroke-width="1.0" stroke-dasharray="1.8 1.55"/>
<line x1="391.0" y1="102.0" x2="391.0" y2="175.0" stroke="#1a1a1a" stroke-width="1.0" stroke-dasharray="1.8 1.55"/>
<line x1="476.9" y1="102.0" x2="476.9" y2="175.0" stroke="#1a1a1a" stroke-width="1.0" stroke-dasharray="1.8 1.55"/>
<line x1="407.4" y1="102.0" x2="407.4" y2="175.0" stroke="#1a1a1a" stroke-width="1.0" stroke-dasharray="1.8 1.55"/>
<line x1="431.3" y1="102.0" x2="431.3" y2="175.0" stroke="#1a1a1a" stroke-width="1.0" stroke-dasharray="1.8 1.55"/>
<line x1="308.3" y1="133.8" x2="317.90000000000003" y2="133.8" stroke="#b8243f" stroke-width="1.0"/>
<text x="320.90000000000003" y="136.20000000000002" font-size="5.1" fill="#3a3a3a" stroke="#3a3a3a" stroke-width="0.15">Low</text>
<line x1="308.3" y1="143.70000000000002" x2="317.90000000000003" y2="143.70000000000002" stroke="#f0961e" stroke-width="1.0"/>
<text x="320.90000000000003" y="146.10000000000002" font-size="5.1" fill="#3a3a3a" stroke="#3a3a3a" stroke-width="0.15">Normal</text>
<line x1="308.3" y1="153.60000000000002" x2="317.90000000000003" y2="153.60000000000002" stroke="#3aa336" stroke-width="1.0"/>
<text x="320.90000000000003" y="156.00000000000003" font-size="5.1" fill="#3a3a3a" stroke="#3a3a3a" stroke-width="0.15">Elevated</text>
<line x1="308.3" y1="163.5" x2="317.90000000000003" y2="163.5" stroke="#214a86" stroke-width="1.0"/>
<text x="320.90000000000003" y="165.9" font-size="5.1" fill="#3a3a3a" stroke="#3a3a3a" stroke-width="0.15">Severe</text>
<text x="308.6" y="175.70000000000002" font-size="5.4" fill="#3a3a3a" stroke="#3a3a3a" stroke-width="0.15" textLength="19.6" lengthAdjust="spacingAndGlyphs"><tspan font-style="italic">P</tspan> &lt; .001</text>
<line x1="302.1" y1="220.3" x2="302.1" y2="271.8" stroke="#2b2b2b" stroke-width="1.1"/>
<line x1="301.5" y1="271.3" x2="517.5" y2="271.3" stroke="#2b2b2b" stroke-width="1.3"/>
<text x="302.5" y="216.3" font-size="5.3" fill="#3a3a3a" textLength="33.8" lengthAdjust="spacingAndGlyphs" stroke="#3a3a3a" stroke-width="0.15">Number at risk</text>
<line x1="299.3" y1="228.3" x2="302.1" y2="228.3" stroke="#2b2b2b" stroke-width="1"/>
<text x="295.70000000000005" y="230.5" font-size="5.4" fill="#c0405e" text-anchor="end" stroke="#c0405e" stroke-width="0.05">Low</text>
<text x="312.2" y="230.3" font-size="5.6" fill="#3a3a3a" text-anchor="middle" stroke="#3a3a3a" stroke-width="0.15">47</text>
<text x="345.09999999999997" y="230.3" font-size="5.6" fill="#3a3a3a" text-anchor="middle" stroke="#3a3a3a" stroke-width="0.15">30</text>
<text x="378.0" y="230.3" font-size="5.6" fill="#3a3a3a" text-anchor="middle" stroke="#3a3a3a" stroke-width="0.15">16</text>
<text x="410.9" y="230.3" font-size="5.6" fill="#3a3a3a" text-anchor="middle" stroke="#3a3a3a" stroke-width="0.15">10</text>
<text x="443.79999999999995" y="230.3" font-size="5.6" fill="#3a3a3a" text-anchor="middle" stroke="#3a3a3a" stroke-width="0.15">6</text>
<text x="476.7" y="230.3" font-size="5.6" fill="#3a3a3a" text-anchor="middle" stroke="#3a3a3a" stroke-width="0.15">2</text>
<text x="509.59999999999997" y="230.3" font-size="5.6" fill="#3a3a3a" text-anchor="middle" stroke="#3a3a3a" stroke-width="0.15">2</text>
<line x1="299.3" y1="240.5" x2="302.1" y2="240.5" stroke="#2b2b2b" stroke-width="1"/>
<text x="295.70000000000005" y="242.7" font-size="5.4" fill="#f2a64a" text-anchor="end" stroke="#f2a64a" stroke-width="0.05">Normal</text>
<text x="312.2" y="242.5" font-size="5.6" fill="#3a3a3a" text-anchor="middle" stroke="#3a3a3a" stroke-width="0.15">1596</text>
<text x="345.09999999999997" y="242.5" font-size="5.6" fill="#3a3a3a" text-anchor="middle" stroke="#3a3a3a" stroke-width="0.15">1196</text>
<text x="378.0" y="242.5" font-size="5.6" fill="#3a3a3a" text-anchor="middle" stroke="#3a3a3a" stroke-width="0.15">826</text>
<text x="410.9" y="242.5" font-size="5.6" fill="#3a3a3a" text-anchor="middle" stroke="#3a3a3a" stroke-width="0.15">521</text>
<text x="443.79999999999995" y="242.5" font-size="5.6" fill="#3a3a3a" text-anchor="middle" stroke="#3a3a3a" stroke-width="0.15">329</text>
<text x="476.7" y="242.5" font-size="5.6" fill="#3a3a3a" text-anchor="middle" stroke="#3a3a3a" stroke-width="0.15">179</text>
<text x="509.59999999999997" y="242.5" font-size="5.6" fill="#3a3a3a" text-anchor="middle" stroke="#3a3a3a" stroke-width="0.15">47</text>
<line x1="299.3" y1="252.9" x2="302.1" y2="252.9" stroke="#2b2b2b" stroke-width="1"/>
<text x="295.70000000000005" y="255.1" font-size="5.4" fill="#55b455" text-anchor="end" stroke="#55b455" stroke-width="0.05">Elevated</text>
<text x="312.2" y="254.9" font-size="5.6" fill="#3a3a3a" text-anchor="middle" stroke="#3a3a3a" stroke-width="0.15">374</text>
<text x="345.09999999999997" y="254.9" font-size="5.6" fill="#3a3a3a" text-anchor="middle" stroke="#3a3a3a" stroke-width="0.15">259</text>
<text x="378.0" y="254.9" font-size="5.6" fill="#3a3a3a" text-anchor="middle" stroke="#3a3a3a" stroke-width="0.15">177</text>
<text x="410.9" y="254.9" font-size="5.6" fill="#3a3a3a" text-anchor="middle" stroke="#3a3a3a" stroke-width="0.15">106</text>
<text x="443.79999999999995" y="254.9" font-size="5.6" fill="#3a3a3a" text-anchor="middle" stroke="#3a3a3a" stroke-width="0.15">61</text>
<text x="476.7" y="254.9" font-size="5.6" fill="#3a3a3a" text-anchor="middle" stroke="#3a3a3a" stroke-width="0.15">27</text>
<text x="509.59999999999997" y="254.9" font-size="5.6" fill="#3a3a3a" text-anchor="middle" stroke="#3a3a3a" stroke-width="0.15">8</text>
<line x1="299.3" y1="265.1" x2="302.1" y2="265.1" stroke="#2b2b2b" stroke-width="1"/>
<text x="295.70000000000005" y="267.3" font-size="5.4" fill="#4f78b0" text-anchor="end" stroke="#4f78b0" stroke-width="0.05">Severe</text>
<text x="312.2" y="267.1" font-size="5.6" fill="#3a3a3a" text-anchor="middle" stroke="#3a3a3a" stroke-width="0.15">53</text>
<text x="345.09999999999997" y="267.1" font-size="5.6" fill="#3a3a3a" text-anchor="middle" stroke="#3a3a3a" stroke-width="0.15">32</text>
<text x="378.0" y="267.1" font-size="5.6" fill="#3a3a3a" text-anchor="middle" stroke="#3a3a3a" stroke-width="0.15">24</text>
<text x="410.9" y="267.1" font-size="5.6" fill="#3a3a3a" text-anchor="middle" stroke="#3a3a3a" stroke-width="0.15">13</text>
<text x="443.79999999999995" y="267.1" font-size="5.6" fill="#3a3a3a" text-anchor="middle" stroke="#3a3a3a" stroke-width="0.15">5</text>
<text x="476.7" y="267.1" font-size="5.6" fill="#3a3a3a" text-anchor="middle" stroke="#3a3a3a" stroke-width="0.15">0</text>
<text x="509.59999999999997" y="267.1" font-size="5.6" fill="#3a3a3a" text-anchor="middle" stroke="#3a3a3a" stroke-width="0.15">0</text>
<line x1="312.2" y1="271.3" x2="312.2" y2="274.40000000000003" stroke="#2b2b2b" stroke-width="1"/>
<text x="312.2" y="282.3" font-size="5.4" fill="#3a3a3a" text-anchor="middle" stroke="#3a3a3a" stroke-width="0.15">0</text>
<line x1="345.09999999999997" y1="271.3" x2="345.09999999999997" y2="274.40000000000003" stroke="#2b2b2b" stroke-width="1"/>
<text x="345.09999999999997" y="282.3" font-size="5.4" fill="#3a3a3a" text-anchor="middle" stroke="#3a3a3a" stroke-width="0.15">1</text>
<line x1="378.0" y1="271.3" x2="378.0" y2="274.40000000000003" stroke="#2b2b2b" stroke-width="1"/>
<text x="378.0" y="282.3" font-size="5.4" fill="#3a3a3a" text-anchor="middle" stroke="#3a3a3a" stroke-width="0.15">2</text>
<line x1="410.9" y1="271.3" x2="410.9" y2="274.40000000000003" stroke="#2b2b2b" stroke-width="1"/>
<text x="410.9" y="282.3" font-size="5.4" fill="#3a3a3a" text-anchor="middle" stroke="#3a3a3a" stroke-width="0.15">3</text>
<line x1="443.79999999999995" y1="271.3" x2="443.79999999999995" y2="274.40000000000003" stroke="#2b2b2b" stroke-width="1"/>
<text x="443.79999999999995" y="282.3" font-size="5.4" fill="#3a3a3a" text-anchor="middle" stroke="#3a3a3a" stroke-width="0.15">4</text>
<line x1="476.7" y1="271.3" x2="476.7" y2="274.40000000000003" stroke="#2b2b2b" stroke-width="1"/>
<text x="476.7" y="282.3" font-size="5.4" fill="#3a3a3a" text-anchor="middle" stroke="#3a3a3a" stroke-width="0.15">5</text>
<line x1="509.59999999999997" y1="271.3" x2="509.59999999999997" y2="274.40000000000003" stroke="#2b2b2b" stroke-width="1"/>
<text x="509.59999999999997" y="282.3" font-size="5.4" fill="#3a3a3a" text-anchor="middle" stroke="#3a3a3a" stroke-width="0.15">6</text>
<text x="407.6" y="292.2" font-size="7" fill="#3a3a3a" text-anchor="middle" textLength="27.8" lengthAdjust="spacingAndGlyphs" stroke="#3a3a3a" stroke-width="0.32">Time (years)</text>
<text x="0" y="0" font-size="7.2" fill="#111" font-weight="bold" text-anchor="middle" textLength="59.3" lengthAdjust="spacingAndGlyphs" transform="translate(271.1,246.9) rotate(-90)">Follow-up at year 2.5 AMC</text>
</svg>
</body></html>
